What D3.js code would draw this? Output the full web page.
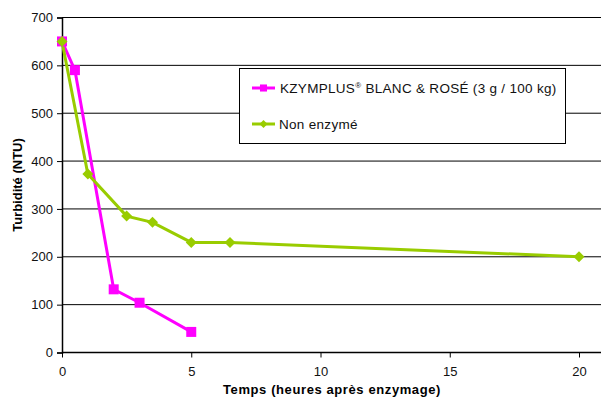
<!DOCTYPE html>
<html>
<head>
<meta charset="utf-8">
<script src="https://cdn.jsdelivr.net/npm/d3@7"></script>
<style>
  body { margin: 0; background: #fff; }
  text { font-family: "Liberation Sans", Arial, sans-serif; }
</style>
</head>
<body>
<script>
// data
var enzTimes = [0, 0.5, 2, 3, 5];
var enzValues = [650, 590, 132, 104, 43];
var nonTimes = [0, 1, 2.5, 3.5, 5, 6.5, 20];
var nonValues = [650, 373, 285, 272, 230, 230, 200];
var xTicks = [0, 5, 10, 15, 20];
var yTicks = [0, 100, 200, 300, 400, 500, 600, 700];
var seriesNames = ["KZYMPLUS", "Non enzymé"];

var svg = d3.select('body').append('svg')
  .attr('width', 601)
  .attr('height', 401);

var x = d3.scaleLinear().domain([0, 20]).range([62, 579]);
var y = d3.scaleLinear().domain([0, 700]).range([352.5, 17.5]);
var plotRight = 601;

// gridlines
svg.append('g').selectAll('line').data(yTicks.slice(1)).enter()
  .append('line')
  .attr('x1', x(0)).attr('x2', plotRight)
  .attr('y1', function(d) { return y(d); })
  .attr('y2', function(d) { return y(d); })
  .attr('stroke', '#000').attr('stroke-width', 1);

// axes
var yAxis = svg.append('g')
  .attr('transform', 'translate(' + x(0) + ',0)')
  .call(d3.axisLeft(y).tickValues(yTicks).tickSize(5).tickPadding(4));
var xAxis = svg.append('g')
  .attr('transform', 'translate(0,' + y(0) + ')')
  .call(d3.axisBottom(x).tickValues(xTicks).tickSize(5).tickPadding(9));
[xAxis, yAxis].forEach(function(a) {
  a.select('.domain').attr('stroke', '#000').attr('stroke-width', 1.5);
  a.selectAll('.tick line').attr('stroke', '#000');
  a.selectAll('.tick text').attr('font-size', 13).attr('fill', '#111')
    .style('font-family', '"Liberation Sans", Arial, sans-serif');
});
xAxis.select('.domain').attr('d', 'M' + x(0) + ',0H' + plotRight);

// axis titles
svg.append('text')
  .attr('x', 332).attr('y', 394)
  .attr('text-anchor', 'middle')
  .attr('font-size', 13).attr('font-weight', 'bold')
  .attr('letter-spacing', 0.6)
  .text('Temps (heures après enzymage)');
svg.append('text')
  .attr('transform', 'translate(22,185) rotate(-90)')
  .attr('text-anchor', 'middle')
  .attr('font-size', 13).attr('font-weight', 'bold')
  .text('Turbidité (NTU)');

var line = d3.line()
  .x(function(d) { return x(d[0]); })
  .y(function(d) { return y(d[1]); });

var enz = d3.zip(enzTimes, enzValues);
var non = d3.zip(nonTimes, nonValues);
var pink = '#FF00FF', green = '#99CC00';

svg.append('path').datum(enz).attr('d', line)
  .attr('fill', 'none').attr('stroke', pink).attr('stroke-width', 3);
svg.append('path').datum(non).attr('d', line)
  .attr('fill', 'none').attr('stroke', green).attr('stroke-width', 3);

// square rotated 45 degrees for the diamond markers
function diamondPath(r) {
  return 'M0,' + (-r) + 'L' + r + ',0L0,' + r + 'L' + (-r) + ',0Z';
}
var square = d3.symbol().type(d3.symbolSquare).size(100);

svg.append('g').selectAll('path').data(enz).enter()
  .append('path').attr('d', square)
  .attr('transform', function(d) { return 'translate(' + x(d[0]) + ',' + y(d[1]) + ')'; })
  .attr('fill', pink);
svg.append('g').selectAll('path').data(non).enter()
  .append('path').attr('d', diamondPath(5.5))
  .attr('transform', function(d) { return 'translate(' + x(d[0]) + ',' + y(d[1]) + ')'; })
  .attr('fill', green);

// legend
var legend = svg.append('g');
legend.append('rect')
  .attr('x', 239.5).attr('y', 68.5).attr('width', 326).attr('height', 75)
  .attr('fill', '#fff').attr('stroke', '#000').attr('stroke-width', 1);

legend.append('line').attr('x1', 252).attr('x2', 275).attr('y1', 88).attr('y2', 88)
  .attr('stroke', pink).attr('stroke-width', 3);
legend.append('path').attr('d', d3.symbol().type(d3.symbolSquare).size(50))
  .attr('transform', 'translate(263.5,88)').attr('fill', pink);
var t1 = legend.append('text').attr('x', 280).attr('y', 93).attr('font-size', 13.5)
  .attr('letter-spacing', 0.3).attr('fill', '#111');
t1.append('tspan').text(seriesNames[0]);
t1.append('tspan').attr('font-size', 8).attr('dy', -5).text('®');
t1.append('tspan').attr('dy', 5).text(' BLANC & ROSÉ (3 g / 100 kg)');

legend.append('line').attr('x1', 252).attr('x2', 275).attr('y1', 124).attr('y2', 124)
  .attr('stroke', green).attr('stroke-width', 3);
legend.append('path').attr('d', diamondPath(4))
  .attr('transform', 'translate(263.5,124)').attr('fill', green);
legend.append('text').attr('x', 279).attr('y', 129).attr('font-size', 13.5)
  .attr('letter-spacing', 0.3).attr('fill', '#111')
  .text(seriesNames[1]);
</script>
</body>
</html>
